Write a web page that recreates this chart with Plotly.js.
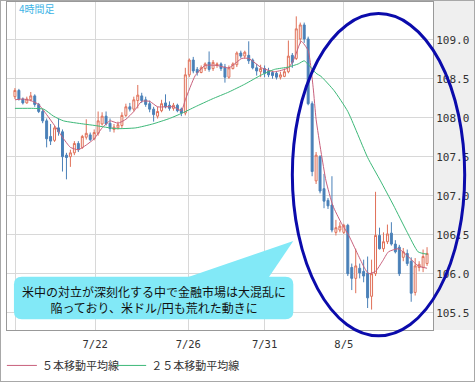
<!DOCTYPE html>
<html><head><meta charset="utf-8">
<script src="https://cdn.plot.ly/plotly-3.0.1.min.js"></script>
<style>
html,body{margin:0;padding:0;background:#fff;}
#wrap{position:relative;width:475px;height:382px;overflow:hidden;}
#chart{width:475px;height:382px;}
#frame{position:absolute;left:0;top:0;width:473px;height:380px;border:1px solid #a8a8a8;pointer-events:none;}
</style>
</head><body>
<div id="wrap"><div id="chart"></div><div id="frame"></div></div>
<script>
// 4-hour USD/JPY candles (oldest -> newest)
const openP = [108.27,108.35,108.24,108.19,108.23,108.28,108.17,108.08,107.96,107.76,
107.71,107.87,107.82,107.52,107.50,107.55,107.67,107.62,107.75,107.78,
107.73,107.80,107.92,108.02,107.93,107.85,107.87,107.90,108.03,108.14,
108.11,108.22,108.28,108.23,108.18,108.11,108.02,108.09,108.19,108.16,
108.12,108.16,108.11,108.06,108.55,108.74,108.62,108.58,108.63,108.71,
108.63,108.67,108.69,108.65,108.52,108.63,108.68,108.83,108.79,108.80,
108.74,108.64,108.59,108.63,108.60,108.58,108.57,108.52,108.53,108.59,
108.80,108.76,109.01,109.19,109.01,108.18,107.19,107.50,107.09,106.94,
106.88,106.53,106.56,106.53,106.62,106.08,105.94,106.07,106.03,106.01,
105.71,106.00,106.49,106.32,106.41,106.52,106.38,106.34,106.21,106.26,
106.16,105.76,106.08,106.08,106.13];
const highP = [108.38,108.37,108.26,108.27,108.33,108.30,108.19,108.11,107.99,107.92,
107.90,107.99,107.85,107.55,107.59,107.70,107.70,107.78,107.98,107.81,
107.85,108.08,108.07,108.08,107.99,107.92,107.95,108.07,108.18,108.19,
108.27,108.42,108.32,108.27,108.22,108.14,108.14,108.23,108.30,108.21,
108.19,108.18,108.13,108.64,108.76,108.78,108.65,108.67,108.71,108.85,
108.74,108.71,108.71,108.69,108.67,108.71,108.85,108.86,108.86,108.98,
108.76,108.69,108.68,108.67,108.64,108.60,108.59,108.59,108.63,108.99,
108.83,109.30,109.22,109.22,109.04,108.21,107.56,107.52,107.28,106.97,
107.25,106.69,106.66,106.64,106.64,106.13,106.32,106.13,106.18,106.22,
106.18,107.05,106.59,106.53,106.63,106.66,106.43,106.37,106.33,106.31,
106.21,106.20,106.16,106.31,106.34];
const lowP = [108.24,108.22,108.17,108.18,108.21,108.14,108.06,107.93,107.62,107.65,
107.69,107.77,107.31,107.21,107.37,107.52,107.56,107.60,107.72,107.70,
107.71,107.77,107.90,107.90,107.82,107.81,107.85,107.87,108.01,108.08,
108.08,108.12,108.19,108.14,108.07,107.95,107.99,108.07,108.12,108.09,
108.09,108.07,108.02,108.03,108.52,108.57,108.54,108.57,108.60,108.59,
108.60,108.64,108.60,108.45,108.50,108.62,108.65,108.76,108.76,108.69,
108.62,108.54,108.52,108.52,108.52,108.50,108.49,108.49,108.52,108.57,
108.64,108.74,108.95,108.96,108.16,107.25,107.15,107.03,106.84,106.83,
106.53,106.49,106.53,106.51,105.97,105.79,105.75,105.94,105.89,105.56,
105.54,105.97,106.31,106.28,106.38,106.36,106.26,105.97,106.16,106.10,
105.64,105.72,106.03,106.02,106.10];
const closeP = [108.35,108.24,108.19,108.24,108.28,108.17,108.08,107.96,107.73,107.70,
107.87,107.82,107.50,107.49,107.55,107.67,107.59,107.76,107.80,107.72,
107.81,107.96,108.02,107.92,107.86,107.88,107.91,108.03,108.14,108.11,
108.23,108.29,108.22,108.17,108.11,108.04,108.08,108.18,108.14,108.12,
108.16,108.09,108.06,108.55,108.74,108.60,108.58,108.64,108.69,108.62,
108.71,108.69,108.63,108.52,108.64,108.69,108.83,108.79,108.84,108.73,
108.64,108.60,108.63,108.57,108.55,108.54,108.52,108.55,108.59,108.79,
108.71,109.14,109.19,109.01,108.18,107.31,107.52,107.06,106.93,106.87,
106.56,106.59,106.61,106.62,106.00,105.94,106.10,106.01,105.97,105.69,
106.00,106.49,106.32,106.41,106.51,106.38,106.28,106.00,106.28,106.13,
105.75,106.10,106.12,106.22,106.26];

// moving averages (candle position, value)
const ma5Pos = [0,2,4,6,8,10,12,14,16,18,20,22,24,26,28,30,32,34,36,38,40,42,
43,45.5,48,51,54,57.25,59,62.25,65.5,69,70.5,72.25,74,75.25,76,77.25,78.5,80.25,
82.25,84.25,86.5,88.25,89.25,91,92.75,94.25,96.75,99.25,101.75,104];
const ma5 = [108.23,108.24,108.22,108.17,108.04,107.90,107.75,107.62,107.59,107.65,107.73,
107.87,107.96,107.93,107.98,108.08,108.21,108.21,108.14,108.14,108.14,108.09,
108.23,108.54,108.67,108.67,108.64,108.76,108.76,108.64,108.59,108.64,108.76,108.98,
108.86,108.39,107.98,107.56,107.19,106.87,106.66,106.49,106.25,106.07,106.00,106.03,
106.16,106.28,106.32,106.22,106.10,106.07];
const ma25Pos = [0,4.75,7.25,9.75,12.25,17.25,20.25,25.5,30.5,34.75,39,42.25,45.5,49.75,
54,58,62.25,65.5,69,71.5,73,74.25,76,77.25,80.5,84,89,92.25,95.5,99,101.75,104];
const ma25 = [108.12,108.12,108.11,108.02,107.96,107.92,107.90,107.86,107.87,107.92,
107.99,108.06,108.14,108.24,108.33,108.43,108.55,108.62,108.65,108.69,108.73,108.67,
108.57,108.53,108.35,108.08,107.49,107.19,106.88,106.53,106.28,106.25];

const tickPos = [0.25,20.25,43.75,63,83];
const tickText = ['','7/22','7/26','7/31','8/5'];
const seriesNames = ['５本移動平均線','２５本移動平均線'];
const periodLabel = '4時間足';
const noteText = '米中の対立が深刻化する中で金融市場は大混乱に<br>陥っており、米ドル/円も荒れた動きに';

const candleX = openP.map((_, i) => i);

const traces = [
  {type:'candlestick', x:candleX, open:openP, high:highP, low:lowP, close:closeP,
   showlegend:false, hoverinfo:'skip', whiskerwidth:0,
   increasing:{line:{color:'#e07058', width:1}, fillcolor:'#ffffff'},
   decreasing:{line:{color:'#4a80b8', width:1}, fillcolor:'#4a80b8'}},
  {type:'scatter', mode:'lines', x:ma5Pos, y:ma5, name:seriesNames[0], legend:'legend',
   line:{color:'#c8607c', width:1, shape:'spline', smoothing:0.5}, hoverinfo:'skip'},
  {type:'scatter', mode:'lines', x:ma25Pos, y:ma25, name:seriesNames[1], legend:'legend2',
   line:{color:'#3cb878', width:1, shape:'spline', smoothing:0.5}, hoverinfo:'skip'}
];

// callout geometry (paper units)
const bx0=0.0163, bx1=0.6721, by0=0.0325, by1=0.1622, rx=0.0186, ry=0.0236;
const boxPath = `M${bx0+rx},${by1} L${bx1-rx},${by1} Q${bx1},${by1} ${bx1},${by1-ry} L${bx1},${by0+ry} Q${bx1},${by0} ${bx1-rx},${by0} L${bx0+rx},${by0} Q${bx0},${by0} ${bx0},${by0+ry} L${bx0},${by1-ry} Q${bx0},${by1} ${bx0+rx},${by1} Z`;

const legendBase = {orientation:'h', y:-0.108, xanchor:'left', yanchor:'middle',
  font:{family:'Noto Sans CJK JP', size:11, color:'#333'}, bgcolor:'rgba(0,0,0,0)',
  borderwidth:0, itemclick:false, itemdoubleclick:false};

const layout = {
  width:475, height:382,
  margin:{l:3, r:42, t:2, b:41, pad:0},
  paper_bgcolor:'#ffffff', plot_bgcolor:'#ffffff',
  font:{family:'Noto Sans CJK JP, sans-serif', color:'#333'},
  showlegend:true,
  legend:Object.assign({}, legendBase, {x:-0.012}),
  legend2:Object.assign({}, legendBase, {x:0.2445}),
  xaxis:{range:[-2,105.5], tickmode:'array', tickvals:tickPos, ticktext:tickText,
    showgrid:true, gridcolor:'#d8d8d8', gridwidth:1, zeroline:false,
    showline:true, linecolor:'#999', linewidth:1, mirror:true, ticks:'', ticklabelstandoff:4,
    tickfont:{family:'DejaVu Sans Mono', size:10.5, color:'#333'},
    rangeslider:{visible:false}, fixedrange:true},
  yaxis:{range:[105.278,109.484], side:'right', tickmode:'linear', tick0:105.5, dtick:0.5,
    tickformat:'.1f', showgrid:true, gridcolor:'#d8d8d8', gridwidth:1, zeroline:false,
    showline:true, linecolor:'#999', linewidth:1, mirror:true, ticks:'', ticklabelstandoff:0,
    tickfont:{family:'DejaVu Sans Mono', size:11, color:'#333'}, fixedrange:true},
  shapes:[
    {type:'rect', xref:'paper', yref:'paper', x0:1, x1:1.1, y0:0, y1:1.01,
     fillcolor:'#efefef', line:{width:0}, layer:'below'},
    {type:'path', xref:'paper', yref:'paper', path:'M0.40,0.150 L0.6721,0.2714 L0.609,0.150 Z',
     fillcolor:'#82e9f7', line:{width:0}, layer:'above'},
    {type:'path', xref:'paper', yref:'paper', path:boxPath,
     fillcolor:'#82e9f7', line:{width:0}, layer:'above'},
    {type:'circle', xref:'paper', yref:'paper', x0:0.6698, x1:1.0744, y0:-0.0177, y1:0.9646,
     line:{color:'#0b0bab', width:3}, fillcolor:'rgba(0,0,0,0)', layer:'above'}
  ],
  annotations:[
    {xref:'paper', yref:'paper', x:0.023, y:0.979, xanchor:'left', yanchor:'middle',
     text:periodLabel, showarrow:false, font:{family:'Noto Sans CJK JP', size:10, color:'#3cb4e6'}},
    {xref:'paper', yref:'paper', x:0.3442, y:0.0944, xanchor:'center', yanchor:'middle',
     align:'center', text:noteText, showarrow:false,
     font:{family:'Noto Sans CJK JP', size:12, color:'#111'}}
  ]
};

Plotly.newPlot('chart', traces, layout, {staticPlot:true, displayModeBar:false});
</script>
</body></html>
